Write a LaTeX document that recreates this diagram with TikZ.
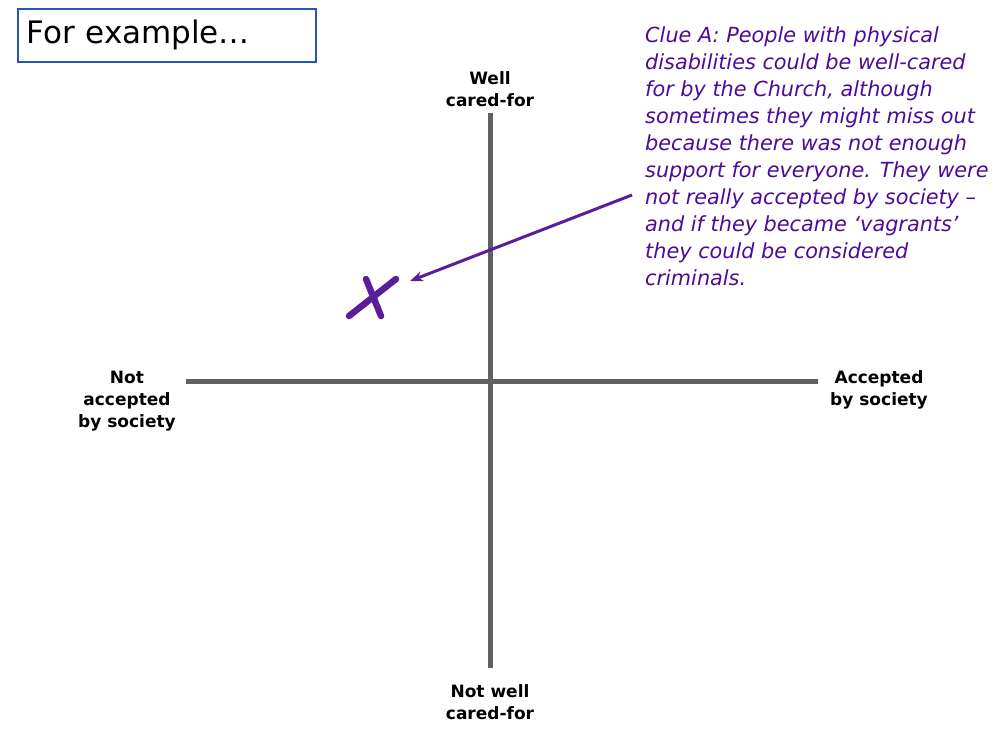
\documentclass[tikz,border=0pt]{standalone}
\usepackage{fontspec}
\setmainfont{DejaVu Sans}
\usepackage{xcolor}
\definecolor{clue}{HTML}{4B0C9A}
\definecolor{mark}{HTML}{5A1E9B}
\definecolor{axisgray}{HTML}{616161}
\definecolor{boxblue}{HTML}{2456B8}
\usepackage{tikz}
\usetikzlibrary{arrows.meta,positioning}

\begin{document}
\begin{tikzpicture}[
  x=1pt, y=-1pt,
  axis/.style={draw=axisgray, line width=5pt},
  axislabel/.style={font=\fontsize{17}{22}\selectfont\bfseries, align=center, inner sep=0pt},
  cluetext/.style={font=\fontsize{20.8}{27}\selectfont\itshape, text=clue, align=left, inner sep=0pt},
  pointer/.style={draw=mark, line width=3pt, -{Stealth[length=13pt,width=10pt]}},
  xstroke/.style={draw=mark, line width=6.5pt, line cap=round}
  ]
  \useasboundingbox (0,0) rectangle (1000,748);
  % title
  \node [draw=boxblue, line width=1.5pt, minimum width=298pt, minimum height=53pt,
    anchor=north west, text width=280pt, align=left,
    font=\fontsize{31}{38}\selectfont] (title) at (17,8) {For example\ldots};
  % axes
  \coordinate (up) at (490,113);
  \coordinate (down) at (490,668);
  \coordinate (left) at (186,381);
  \coordinate (right) at (818,381);
  \draw [axis] (up) -- (down);
  \draw [axis] (left) -- (right);
  \node [axislabel] (well) at (490,89) {Well\\cared-for};
  \node [axislabel] (notwell) at (490,702) {Not well\\cared-for};
  \node [axislabel] (notacc) at (127,401) {Not\\accepted\\by society};
  \node [axislabel] (acc) at (879,390) {Accepted\\by society};
  % clue
  \node [cluetext, anchor=north west] (clueA) at (645,26) {Clue A: People with physical\\
    disabilities could be well-cared\\
    for by the Church, although\\
    sometimes they might miss out\\
    because there was not enough\\
    support for everyone. They were\\
    not really accepted by society --\\
    and if they became `vagrants'\\
    they could be considered\\
    criminals.};
  % the mark
  \draw [xstroke] (349,316) -- (396,279);
  \draw [xstroke] (366,279) -- (381,316);
  \coordinate (tail) at (632,195);
  \coordinate (tip) at (410,281);
  \draw [pointer] (tail) -- (tip);
\end{tikzpicture}
\end{document}
